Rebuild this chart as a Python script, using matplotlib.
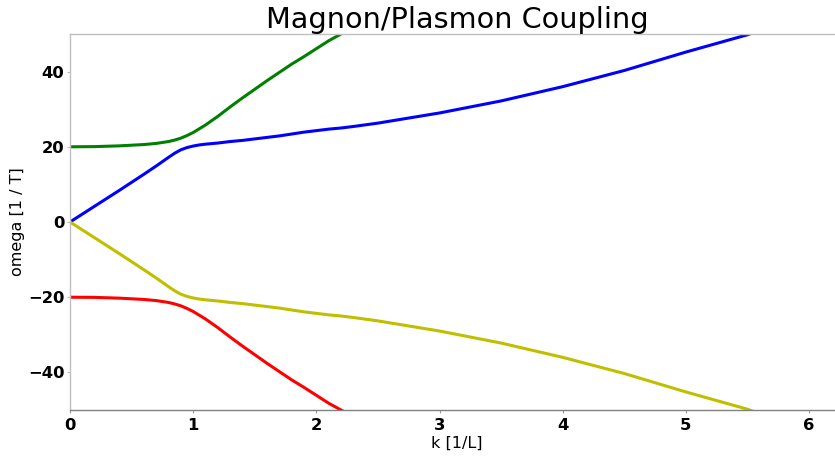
import matplotlib
matplotlib.use("Agg")
import matplotlib.pyplot as plt
import numpy as np

# wavenumber samples
k = [0.0, 0.2, 0.4, 0.6, 0.7, 0.8, 0.85, 0.9, 0.95, 1.0, 1.05, 1.1, 1.2, 1.3,
     1.4, 1.5, 1.6, 1.7, 1.8, 1.9, 2.0, 2.1, 2.2, 2.3, 2.5, 3.0, 3.5, 4.0,
     4.5, 5.0, 5.5, 5.6]

# upper coupled branch (green)
omega_green = [20.0, 20.05, 20.25, 20.6, 20.9, 21.4, 21.8, 22.3, 23.0, 23.8,
               24.8, 25.8, 28.1, 30.6, 33.0, 35.3, 37.6, 39.8, 42.0, 44.0,
               46.1, 48.2, 50.0, 51.8, 56.0, 66.0, 76.0, 86.0, 96.0, 106.0,
               116.0, 118.0]
# lower coupled branch (blue)
omega_blue = [0.0, 4.2, 8.4, 12.7, 14.9, 17.2, 18.3, 19.2, 19.8, 20.2, 20.5,
              20.7, 21.0, 21.4, 21.7, 22.1, 22.5, 22.9, 23.4, 23.9, 24.3,
              24.7, 25.0, 25.4, 26.3, 29.0, 32.2, 36.0, 40.3, 45.2, 49.8,
              51.0]
# negative-frequency branches
omega_yellow = [0.0, -4.2, -8.4, -12.7, -14.9, -17.2, -18.3, -19.2, -19.8,
                -20.2, -20.5, -20.7, -21.0, -21.4, -21.7, -22.1, -22.5, -22.9,
                -23.4, -23.9, -24.3, -24.7, -25.0, -25.4, -26.3, -29.0, -32.2,
                -36.0, -40.3, -45.2, -49.8, -51.0]
omega_red = [-20.0, -20.05, -20.25, -20.6, -20.9, -21.4, -21.8, -22.3, -23.0,
             -23.8, -24.8, -25.8, -28.1, -30.6, -33.0, -35.3, -37.6, -39.8,
             -42.0, -44.0, -46.1, -48.2, -50.0, -51.8, -56.0, -66.0, -76.0,
             -86.0, -96.0, -106.0, -116.0, -118.0]

xticks = [0, 1, 2, 3, 4, 5, 6]
yticks = [-40, -20, 0, 20, 40]

fig = plt.figure(figsize=(8.35, 4.57), dpi=100)
ax = fig.add_axes([70 / 835, 47 / 457, (844 - 70) / 835, 376 / 457])

lw = 2.2
ax.plot(k, omega_green, color="#008000", lw=lw)
ax.plot(k, omega_blue, color="#0000ff", lw=lw)
ax.plot(k, omega_yellow, color="#bfbf00", lw=lw)
ax.plot(k, omega_red, color="#ff0000", lw=lw)

ax.set_xlim(0, 2 * np.pi)
ax.set_ylim(-50, 50)
ax.set_xticks(xticks)
ax.set_yticks(yticks)
ax.set_xticklabels([str(t) for t in xticks])
ax.set_yticklabels([("\u2212" if t < 0 else "") + str(abs(t)) for t in yticks])
for lab in ax.get_xticklabels() + ax.get_yticklabels():
    lab.set_fontweight("bold")
    lab.set_fontsize(11.8)

ax.tick_params(axis="x", direction="out", length=2.5, width=0.8,
               color="#999999", pad=3.5)
ax.tick_params(axis="y", direction="out", length=2.5, width=0.8,
               color="#bbbbbb", pad=1.6)
ax.spines["left"].set_color("#c0c0c0")
ax.spines["top"].set_color("#c0c0c0")
ax.spines["bottom"].set_color("#808080")
ax.spines["right"].set_visible(False)
for s in ax.spines.values():
    s.set_linewidth(1.0)

ax.set_title("Magnon/Plasmon Coupling", fontsize=20.7, pad=0.5)
ax.set_xlabel("k [1/L]", fontsize=11.5, labelpad=2)
ax.set_ylabel("omega [1 / T]", fontsize=11.5)
ax.yaxis.set_label_coords((25 - 70) / 774, 0.5)

fig.savefig("out.png", dpi=100)
